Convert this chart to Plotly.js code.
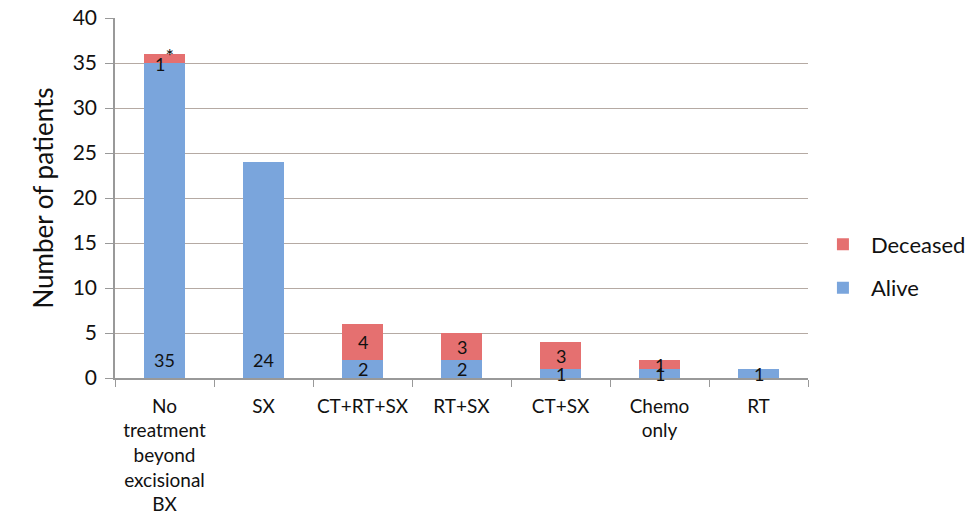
<!DOCTYPE html>
<html><head><meta charset="utf-8">
<script src="https://cdn.plot.ly/plotly-3.0.1.min.js"></script>
<style>body{margin:0;background:#fff}</style>
</head><body>
<div id="chart" style="width:973px;height:518px"></div>
<script>
const categories = ["No<br>treatment<br>beyond<br>excisional<br>BX", "SX", "CT+RT+SX", "RT+SX", "CT+SX", "Chemo<br>only", "RT"];
const alive = [35, 24, 2, 2, 1, 1, 1];
const deceased = [1, 0, 4, 3, 3, 1, 0];
const deceasedLabels = ["1<sup><span style='font-size:20px'>*</span></sup>", "", "4", "3", "3", "1", ""];
const yTicks = [0, 5, 10, 15, 20, 25, 30, 35, 40];

const font = "Lato, 'Open Sans', sans-serif";
const annotations = [];
categories.forEach((c, i) => {
  if (alive[i] > 0) annotations.push({x: c, y: Math.min(alive[i] / 2, 2), text: String(alive[i]), showarrow: false,
    font: {family: font, size: 18, color: "#111"}, yanchor: "middle"});
  if (deceased[i] > 0) annotations.push({x: c, y: alive[i] + deceased[i] / 2, text: deceasedLabels[i], showarrow: false,
    font: {family: font, size: 18, color: "#111"}, yanchor: "middle"});
});

const data = [
  {type: "bar", name: "Alive", x: categories, y: alive, legendrank: 2, legendgroup: "a",
   marker: {color: "#7aa5dc", line: {width: 0}}, hoverinfo: "y"},
  {type: "bar", name: "Deceased", x: categories, y: deceased, legendrank: 1, legendgroup: "d",
   marker: {color: "#e57070", line: {width: 0}}, hoverinfo: "y"}
];
const layout = {
  width: 973, height: 518,
  margin: {l: 115, r: 165, t: 18, b: 140, autoexpand: false},
  barmode: "stack", bargap: 0.58,
  paper_bgcolor: "#fff", plot_bgcolor: "#fff",
  font: {family: font, size: 20, color: "#111"},
  showlegend: true,
  legend: {x: 1.01, y: 0.31, xanchor: "left", yanchor: "middle", traceorder: "grouped", tracegroupgap: 12,
    itemwidth: 46, font: {family: font, size: 22, color: "#111"}},
  xaxis: {type: "category", tickson: "boundaries", ticks: "outside", ticklen: 7, tickcolor: "#999", tickangle: 0,
    showline: true, linecolor: "#999", linewidth: 1.5, showgrid: false, ticklabelstandoff: 10,
    tickfont: {family: font, size: 19, color: "#111"}},
  yaxis: {range: [0, 40], tickvals: yTicks, ticks: "outside", ticklen: 8, tickcolor: "#999",
    showline: true, linecolor: "#999", linewidth: 1.5, gridcolor: "#b5aaa3", gridwidth: 1.2, zeroline: false,
    tickfont: {family: font, size: 21, color: "#111"}, ticklabelstandoff: 4,
    title: {text: "Number of patients", font: {family: font, size: 26, color: "#111"}, standoff: 12}},
  annotations: annotations
};
Plotly.newPlot("chart", data, layout, {displayModeBar: false});
</script>
</body></html>
